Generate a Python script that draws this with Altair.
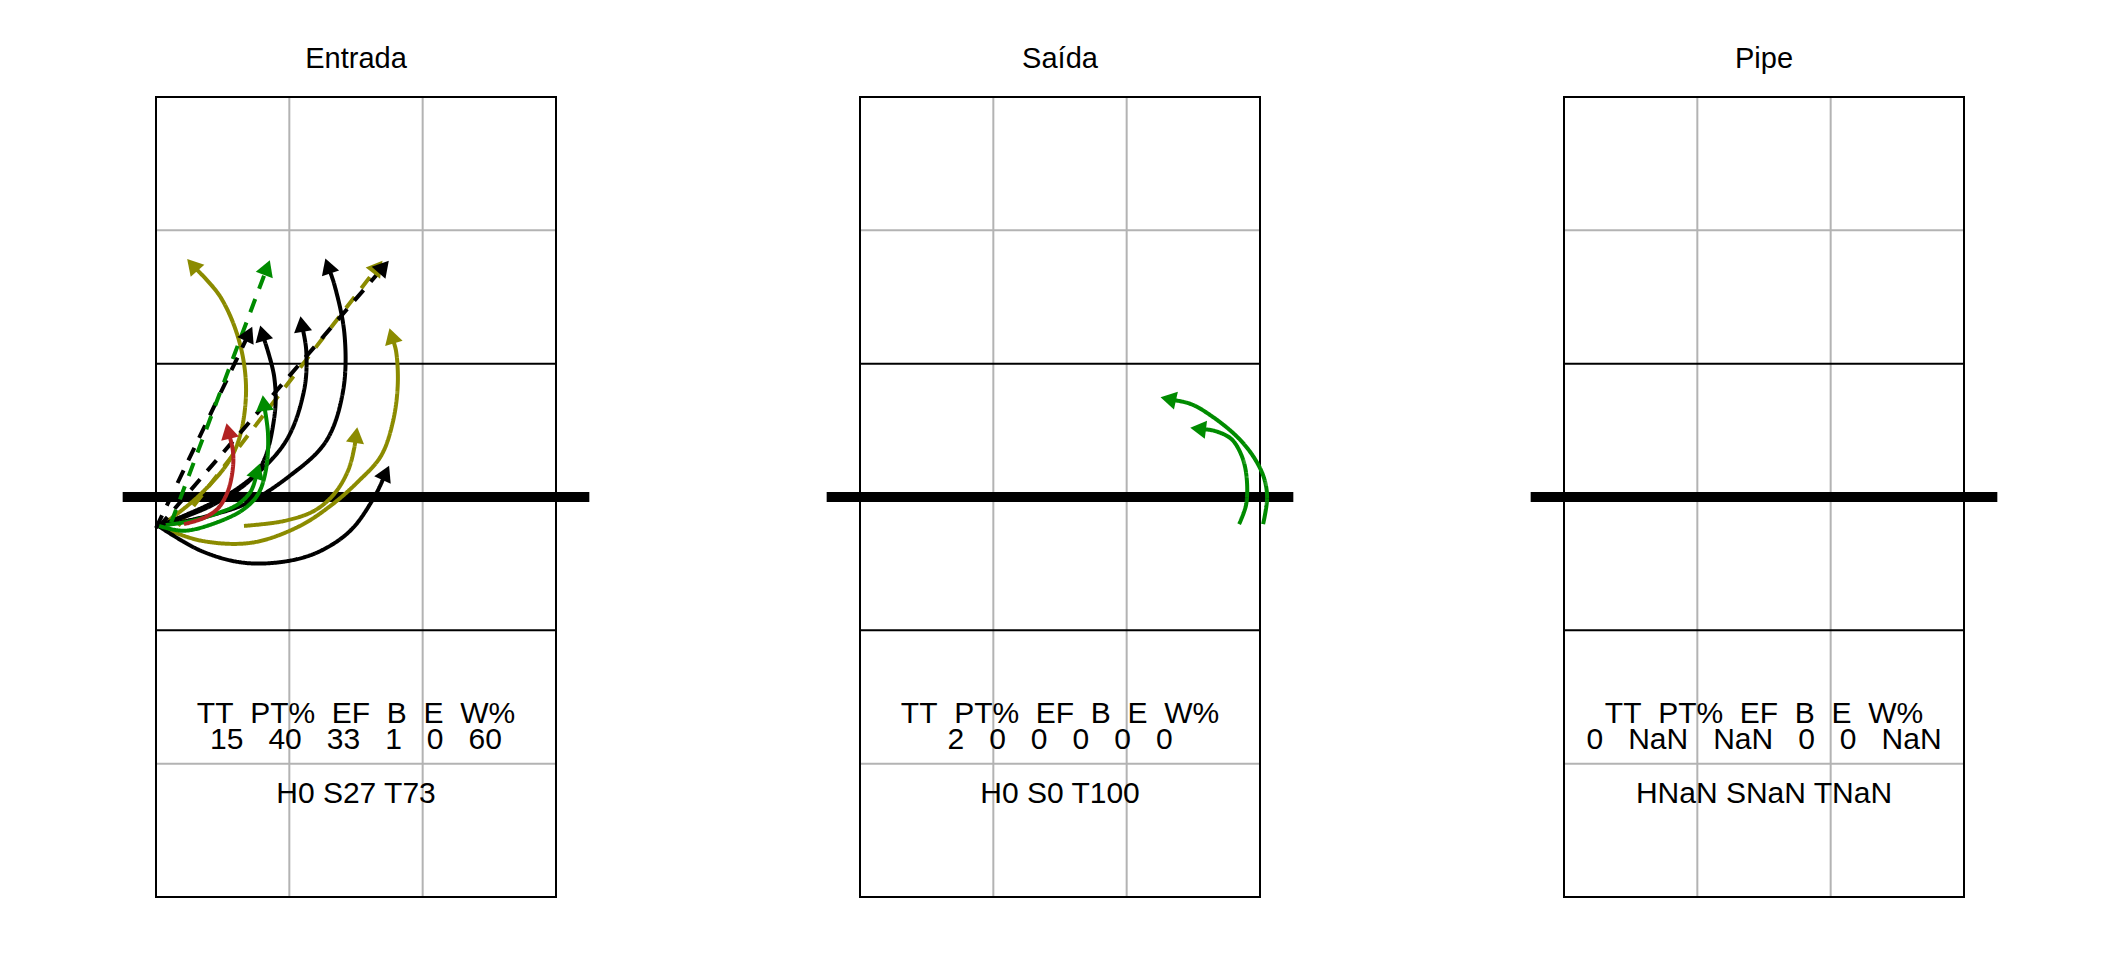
import math
import altair as alt
import pandas as pd

# ---------------- data ----------------
PANELS = ["Entrada", "Saída", "Pipe"]

# court markings (metres; court is 9 x 18, net at 9)
grid_x = [3, 6]
grid_y = [3, 15]
attack_y = [6, 12]
net_y = 9

stat_labels = ["TT", "PT%", "EF", "B", "E", "W%"]
stats_entrada = [15, 40, 33, 1, 0, 60]
stats_saida = [2, 0, 0, 0, 0, 0]
stats_pipe = [0, float("nan"), float("nan"), 0, 0, float("nan")]
hst_labels = ["H", "S", "T"]
hst_entrada = [0, 27, 73]
hst_saida = [0, 0, 100]
hst_pipe = [float("nan"), float("nan"), float("nan")]

# attack trajectories (x, y in metres), last point = arrow tip
ent_olive_1 = [(0.11, 8.35), (1.01, 9.07), (1.75, 10.0), (2.02, 11.2), (1.90, 12.4), (1.45, 13.5), (0.74, 14.31)]
ent_olive_2 = [(0.50, 8.35), (5.06, 14.27)]
ent_olive_3 = [(0.05, 8.35), (1.0, 8.02), (2.14, 7.97), (3.2, 8.33), (3.95, 8.82), (4.54, 9.34), (5.06, 9.92),
               (5.33, 10.69), (5.44, 11.54), (5.40, 12.29), (5.27, 12.74)]
ent_olive_4 = [(1.98, 8.35), (2.88, 8.46), (3.56, 8.69), (4.01, 9.07), (4.32, 9.59), (4.46, 10.10), (4.52, 10.51)]
ent_green_1 = [(0.34, 8.42), (2.54, 14.27)]
ent_green_2 = [(0.07, 8.35), (0.63, 8.24), (1.40, 8.44), (1.98, 8.73), (2.30, 9.07), (2.48, 9.65), (2.52, 10.42), (2.41, 11.23)]
ent_green_3 = [(0.22, 8.37), (0.79, 8.46), (1.40, 8.64), (1.85, 8.84), (2.14, 9.14), (2.32, 9.70)]
ent_red_1 = [(0.63, 8.39), (1.08, 8.53), (1.40, 8.75), (1.62, 9.14), (1.73, 9.65), (1.73, 10.04), (1.60, 10.60)]
ent_black_1 = [(0.05, 8.31), (5.20, 14.27)]
ent_black_2 = [(0.0, 8.30), (2.14, 12.78)]
ent_black_3 = [(0.05, 8.35), (1.31, 8.84), (2.30, 9.59), (2.66, 10.78), (2.66, 11.7), (2.36, 12.80)]
ent_black_4 = [(0.11, 8.37), (1.76, 9.14), (2.88, 10.19), (3.33, 11.39), (3.38, 12.3), (3.26, 13.01)]
ent_black_5 = [(0.22, 8.37), (1.91, 8.80), (3.04, 9.50), (3.83, 10.26), (4.21, 11.39), (4.24, 12.67), (4.01, 13.79), (3.83, 14.31)]
ent_black_6 = [(0.05, 8.35), (1.01, 7.79), (1.98, 7.52), (2.97, 7.56), (3.71, 7.79), (4.40, 8.27), (4.95, 9.07), (5.22, 9.65)]
sai_green_1 = [(8.53, 8.39), (8.69, 8.84), (8.69, 9.52), (8.57, 9.97), (8.35, 10.31), (7.97, 10.49), (7.49, 10.55)]
sai_green_2 = [(9.07, 8.39), (9.16, 8.98), (9.09, 9.43), (8.87, 9.88), (8.51, 10.33), (7.97, 10.78), (7.45, 11.09), (6.82, 11.23)]

ATTACKS = [
    ("Entrada", "olive", "solid", ent_olive_1),
    ("Entrada", "olive", "dashed", ent_olive_2),
    ("Entrada", "olive", "solid", ent_olive_3),
    ("Entrada", "olive", "solid", ent_olive_4),
    ("Entrada", "black", "dashed", ent_black_1),
    ("Entrada", "black", "dashed", ent_black_2),
    ("Entrada", "black", "solid", ent_black_3),
    ("Entrada", "black", "solid", ent_black_4),
    ("Entrada", "black", "solid", ent_black_5),
    ("Entrada", "black", "solid", ent_black_6),
    ("Entrada", "green", "dashed", ent_green_1),
    ("Entrada", "green", "solid", ent_green_2),
    ("Entrada", "green", "solid", ent_green_3),
    ("Entrada", "red", "solid", ent_red_1),
    ("Saída", "green", "solid", sai_green_1),
    ("Saída", "green", "solid", sai_green_2),
]

STATS = {"Entrada": (stats_entrada, hst_entrada),
         "Saída": (stats_saida, hst_saida),
         "Pipe": (stats_pipe, hst_pipe)}

# ---------------- styling / layout ----------------
PLOT_W, PLOT_H = 400, 800
PX_PER_M = PLOT_W / 9.0
HEAD_SIZE = 330
HEAD_H = math.sqrt(3) / 2 * math.sqrt(HEAD_SIZE) / 2
FONT = "Liberation Sans"
CAT_DOMAIN = ["black", "olive", "green", "red"]
CAT_RANGE = ["#000000", "#8B8B00", "#008B00", "#B22222"]
TEXT_Y = {"head": 3.92, "vals": 3.34, "hst": 2.12}
NBSP = "\u00a0"


def fmt(v):
    return "NaN" if v != v else str(int(v))


line_rows, head_rows = [], []
for k, (panel, cat, style, pts) in enumerate(ATTACKS):
    (x0, y0), (x1, y1) = pts[-2], pts[-1]
    dx, dy = x1 - x0, y1 - y0
    n = math.hypot(dx, dy)
    ux, uy = dx / n, dy / n
    back = HEAD_H / PX_PER_M
    cx, cy = x1 - ux * back, y1 - uy * back
    ang = math.degrees(math.atan2(dx, dy)) % 360
    draw = list(pts[:-1]) + [(cx, cy)]
    for i, (x, y) in enumerate(draw):
        line_rows.append({"panel": panel, "id": k, "i": i, "x": x, "y": y, "cat": cat, "style": style})
    head_rows.append({"panel": panel, "id": k, "x": cx, "y": cy, "angle": ang, "cat": cat})
lines_df = pd.DataFrame(line_rows)
heads_df = pd.DataFrame(head_rows)

xs = alt.Scale(domain=[0, 9], nice=False, zero=False)
ys = alt.Scale(domain=[0, 18], nice=False, zero=False)
color = alt.Color("cat:N", scale=alt.Scale(domain=CAT_DOMAIN, range=CAT_RANGE), legend=None)

gray_df = pd.DataFrame(
    [{"x": gx, "x2": gx, "y": 0, "y2": 18} for gx in grid_x] +
    [{"x": 0, "x2": 9, "y": gy, "y2": gy} for gy in grid_y])
black_df = pd.DataFrame([{"x": 0, "x2": 9, "y": ay, "y2": ay} for ay in attack_y])
court_df = pd.DataFrame([{"x": 0, "x2": 9, "y": 0, "y2": 18}])
net_df = pd.DataFrame([{"x": -0.75, "x2": 9.75, "y": net_y, "y2": net_y}])


def rules(df, col, width):
    return alt.Chart(df).mark_rule(color=col, strokeWidth=width).encode(
        x=alt.X("x:Q", scale=xs, axis=None), x2="x2:Q",
        y=alt.Y("y:Q", scale=ys, axis=None), y2="y2:Q")


def panel(name):
    stats, hst = STATS[name]
    text_df = pd.DataFrame([
        {"x": 4.5, "y": TEXT_Y["head"], "label": (NBSP * 2).join(stat_labels)},
        {"x": 4.5, "y": TEXT_Y["vals"], "label": (NBSP * 3).join(fmt(v) for v in stats)},
        {"x": 4.5, "y": TEXT_Y["hst"], "label": " ".join(f"{l}{fmt(v)}" for l, v in zip(hst_labels, hst))},
    ])
    layers = [
        rules(gray_df, "#B3B3B3", 2),
        rules(black_df, "#000000", 2),
        alt.Chart(court_df).mark_rect(fillOpacity=0, stroke="black", strokeWidth=2).encode(
            x=alt.X("x:Q", scale=xs, axis=None), x2="x2:Q",
            y=alt.Y("y:Q", scale=ys, axis=None), y2="y2:Q"),
        rules(net_df, "#000000", 10),
    ]
    ld = lines_df[lines_df.panel == name]
    hd = heads_df[heads_df.panel == name]
    if len(ld):
        layers.append(alt.Chart(ld).mark_line(strokeWidth=4, interpolate="catmull-rom", strokeCap="butt").encode(
            x=alt.X("x:Q", scale=xs, axis=None), y=alt.Y("y:Q", scale=ys, axis=None),
            detail="id:N", order="i:Q", color=color,
            strokeDash=alt.StrokeDash("style:N", scale=alt.Scale(domain=["solid", "dashed"],
                                                                  range=[[1, 0], [14, 11]]), legend=None)))
        layers.append(alt.Chart(hd).mark_point(shape="triangle", filled=True, size=HEAD_SIZE, opacity=1,
                                                strokeWidth=0).encode(
            x=alt.X("x:Q", scale=xs, axis=None), y=alt.Y("y:Q", scale=ys, axis=None),
            angle=alt.Angle("angle:Q", scale=None), color=color))
    layers.append(alt.Chart(text_df).mark_text(font=FONT, fontSize=30, baseline="alphabetic",
                                               align="center", color="black").encode(
        x=alt.X("x:Q", scale=xs, axis=None), y=alt.Y("y:Q", scale=ys, axis=None), text="label:N"))
    return alt.layer(*layers).properties(
        width=PLOT_W, height=PLOT_H,
        title=alt.TitleParams(text=name, fontSize=29, font=FONT, fontWeight="normal", color="black",
                              anchor="middle", baseline="alphabetic", offset=-1))


chart = alt.hconcat(*[panel(p) for p in PANELS], spacing=226).properties(
    padding={"left": 109, "top": 37, "right": 5, "bottom": 5}, background="white"
).configure_view(stroke=None)

chart.save("out.html", embed_options={"renderer": "svg", "actions": False})
